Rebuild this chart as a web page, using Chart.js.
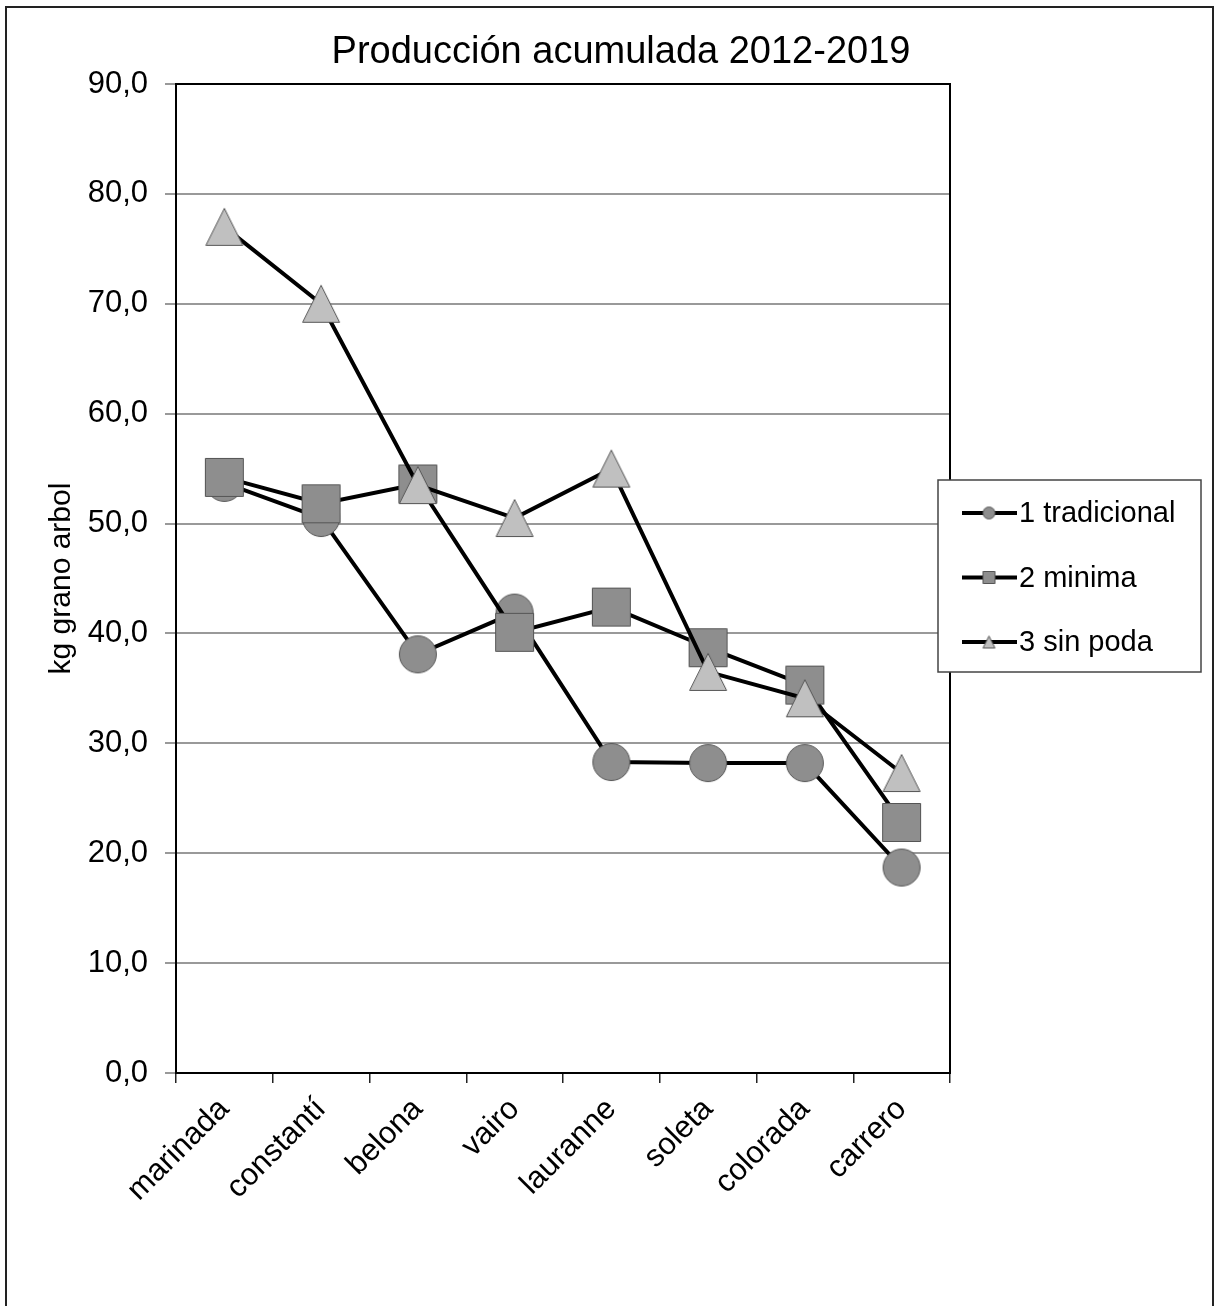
<!DOCTYPE html>
<html>
<head>
<meta charset="utf-8">
<script src="https://cdn.jsdelivr.net/npm/chart.js@4"></script>
<style>
  body { margin: 0; background: #fff; }
  #prodChart { display: block; }
</style>
</head>
<body>
<canvas id="prodChart" width="1216" height="1306"></canvas>
<script>
// varieties on the x axis
const categories = ['marinada', 'constantí', 'belona', 'vairo', 'lauranne', 'soleta', 'colorada', 'carrero'];

// kg grano por arbol, one array per pruning treatment
const tradicional = [53.7, 50.5, 38.1, 41.9, 28.3, 28.2, 28.2, 18.7];
const minima = [54.2, 51.8, 53.6, 40.1, 42.4, 38.7, 35.3, 22.8];
const sinPoda = [77.0, 70.0, 53.5, 50.5, 55.0, 36.5, 34.1, 27.3];

const seriesNames = ['1 tradicional', '2 minima', '3 sin poda'];
const yMin = 0;
const yMax = 90;
const yStep = 10;

const FONT = "'Liberation Sans', Arial, sans-serif";

// marker images, centred on the point (triangle centred on its box, not its circumcircle)
function makeMarker(shape, size, fill, stroke) {
    const c = document.createElement('canvas');
    c.width = size + 2;
    c.height = size + 2;
    const g = c.getContext('2d');
    const m = 1, s = size;
    g.fillStyle = fill;
    g.strokeStyle = stroke;
    g.lineWidth = 1;
    g.beginPath();
    if (shape === 'circle') {
        g.arc(m + s / 2, m + s / 2, s / 2 - 0.5, 0, Math.PI * 2);
    } else if (shape === 'square') {
        g.rect(m + 0.5, m + 0.5, s - 1, s - 1);
    } else {
        g.moveTo(m + s / 2, m + 0.5);
        g.lineTo(m + s - 0.5, m + s - 0.5);
        g.lineTo(m + 0.5, m + s - 0.5);
        g.closePath();
    }
    g.fill();
    g.stroke();
    return c;
}

const shapes = ['circle', 'square', 'triangle'];
const fills = ['#8e8e8e', '#8e8e8e', '#c0c0c0'];
const bigSizes = [38, 39, 38];
const bigMarkers = shapes.map((s, i) => makeMarker(s, bigSizes[i], fills[i], '#555'));
const smallMarkers = shapes.map((s, i) => makeMarker(s, 13, fills[i], '#555'));

// outer frame and chart title
const frameTitle = {
    id: 'frameTitle',
    beforeDraw(chart) {
        const ctx = chart.ctx;
        ctx.save();
        ctx.fillStyle = '#fff';
        ctx.fillRect(0, 0, chart.width, chart.height);
        ctx.strokeStyle = '#222';
        ctx.lineWidth = 2;
        ctx.strokeRect(6, 7, 1207, 1320);
        ctx.fillStyle = '#000';
        ctx.font = '38px ' + FONT;
        ctx.textAlign = 'center';
        ctx.textBaseline = 'alphabetic';
        ctx.fillText('Producción acumulada 2012-2019', 621, 63);
        ctx.restore();
    },
    beforeDatasetsDraw(chart) {
        const a = chart.chartArea;
        const ctx = chart.ctx;
        ctx.save();
        ctx.strokeStyle = '#000';
        ctx.lineWidth = 2;
        ctx.strokeRect(a.left, a.top, a.right - a.left, a.bottom - a.top);
        ctx.restore();
    }
};

// legend box on the right, line with small marker per series
const legendBox = {
    id: 'legendBox',
    afterDraw(chart) {
        const ctx = chart.ctx;
        ctx.save();
        ctx.fillStyle = '#fff';
        ctx.strokeStyle = '#444';
        ctx.lineWidth = 1.5;
        ctx.fillRect(938, 480, 263, 192);
        ctx.strokeRect(938, 480, 263, 192);
        ctx.font = '29px ' + FONT;
        ctx.textBaseline = 'middle';
        ctx.textAlign = 'left';
        chart.data.datasets.forEach((ds, i) => {
            const y = 513 + i * 64.5;
            ctx.strokeStyle = '#000';
            ctx.lineWidth = 4;
            ctx.beginPath();
            ctx.moveTo(962, y);
            ctx.lineTo(1017, y);
            ctx.stroke();
            const mk = smallMarkers[i];
            ctx.drawImage(mk, 989 - mk.width / 2, y - mk.height / 2);
            ctx.fillStyle = '#000';
            ctx.fillText(ds.label, 1019, y + 1);
        });
        ctx.restore();
    }
};

const seriesData = [tradicional, minima, sinPoda];

var ctxProd = document.getElementById('prodChart').getContext('2d');
var prodChart = new Chart(ctxProd, {
    type: 'line',
    data: {
        labels: categories,
        datasets: seriesData.map((vals, i) => ({
            label: seriesNames[i],
            data: vals,
            borderColor: '#000',
            borderWidth: 4,
            tension: 0,
            pointStyle: bigMarkers[i],
            pointRadius: 20,
            order: 3 - i
        }))
    },
    options: {
        responsive: false,
        animation: false,
        layout: {
            padding: { top: 84, right: 266, bottom: 0, left: 0 }
        },
        plugins: {
            legend: { display: false },
            title: { display: false },
            tooltip: { enabled: false }
        },
        scales: {
            x: {
                offset: true,
                afterFit: (scale) => { scale.height = 233; },
                grid: {
                    offset: true,
                    drawOnChartArea: false,
                    drawTicks: true,
                    tickLength: 10,
                    color: '#222',
                    lineWidth: 1.5
                },
                border: { display: true, color: '#000', width: 2 },
                ticks: {
                    autoSkip: false,
                    maxRotation: 45,
                    minRotation: 45,
                    padding: 8,
                    color: '#000',
                    font: { family: FONT, size: 31 }
                }
            },
            y: {
                min: yMin,
                max: yMax,
                afterFit: (scale) => { scale.width = 176; },
                grid: {
                    color: '#999',
                    lineWidth: 2,
                    tickLength: 11
                },
                border: { display: true, color: '#000', width: 2 },
                ticks: {
                    stepSize: yStep,
                    padding: 17,
                    color: '#000',
                    font: { family: FONT, size: 31 },
                    callback: (v) => v.toFixed(1).replace('.', ',')
                },
                title: {
                    display: true,
                    text: 'kg grano arbol',
                    color: '#000',
                    font: { family: FONT, size: 30 },
                    padding: { top: 44, bottom: 0 }
                }
            }
        }
    },
    plugins: [frameTitle, legendBox]
});
</script>
</body>
</html>
